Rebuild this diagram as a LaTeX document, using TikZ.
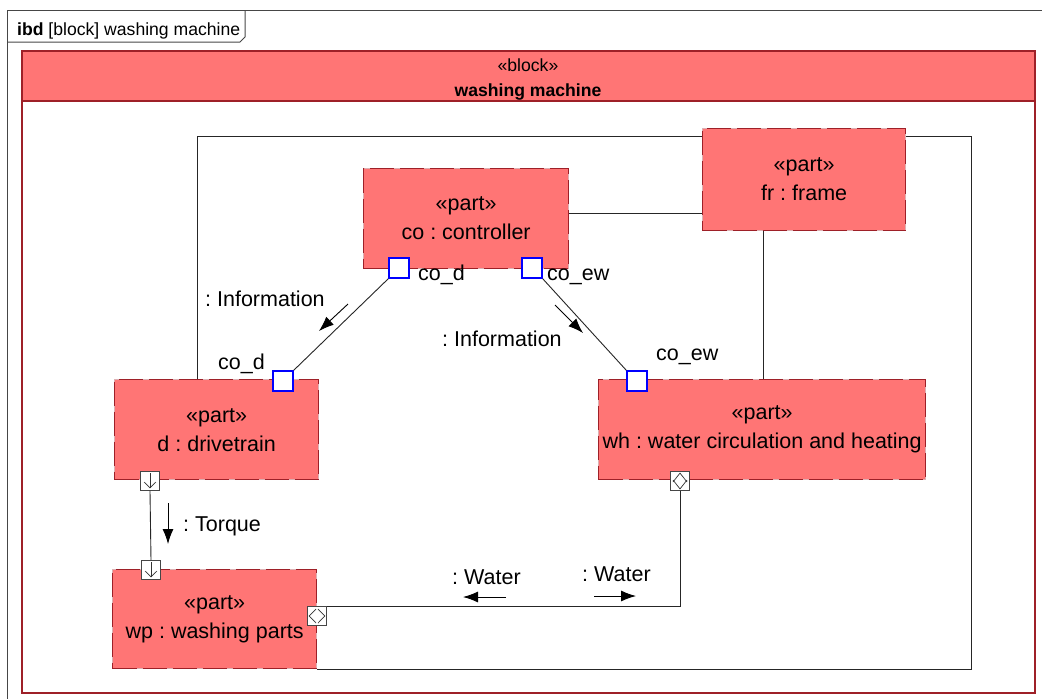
\documentclass[tikz,border=0pt]{standalone}
\usepackage{fontspec}
\setmainfont{Liberation Sans}
\usetikzlibrary{arrows.meta}
\definecolor{partfill}{RGB}{255,117,117}
\definecolor{partedge}{RGB}{158,32,40}
\definecolor{portblue}{RGB}{0,0,255}
\definecolor{framegray}{RGB}{70,70,70}
\frenchspacing

\begin{document}
\begin{tikzpicture}[x=1pt,y=-1pt,
  lbl/.style={font=\fontsize{21.5}{24}\selectfont, inner sep=0pt, anchor=base west},
  hdr/.style={font=\fontsize{17.6}{20}\selectfont, inner sep=0pt, anchor=base},
  partbox/.style={fill=partfill, draw=partedge!35, line width=1.3pt,
    postaction={draw=partedge, dash pattern=on 24pt off 6pt},
    align=center, font=\fontsize{21.5}{29}\selectfont, inner sep=0pt,
    anchor=north west},
  bport/.style={draw=portblue, fill=white, line width=1.3pt, minimum size=20pt, inner sep=0pt},
  fport/.style={draw=framegray, fill=white, line width=0.8pt, minimum size=19pt, inner sep=0pt},
  conn/.style={draw=black!85, line width=0.9pt},
  flow/.style={line width=0.9pt, -{Latex[length=15pt,width=11pt]}},
  glyph/.style={draw=black!80, line width=0.7pt},
]
\useasboundingbox (0,0) rectangle (1042,699);

% diagram frame and its name tab
\draw[framegray, line width=1pt] (7,720) -- (7,10) -- (1060,10);
\draw[framegray, line width=1pt] (7,42) -- (240,42) -- (245,37) -- (245,10);
\node[font=\fontsize{17.6}{20}\selectfont, inner sep=0pt, anchor=base west] (title) at (17,35)
  {\textbf{ibd} [block] washing machine};

% enclosing block
\draw[partedge, line width=1.5pt, fill=white] (22,51) rectangle (1035,693);
\draw[partedge, line width=1.5pt, fill=partfill] (22,51) rectangle (1035,101);
\node[hdr] (stereo) at (528,71) {«block»};
\node[hdr, font=\fontsize{17.6}{20}\selectfont\bfseries] (bname) at (528,96) {washing machine};

% parts
\node[partbox, minimum width=205pt, minimum height=100pt] (co) at (363,168) {«part»\\co : controller};
\node[partbox, minimum width=203pt, minimum height=102pt] (fr) at (702,128) {«part»\\fr : frame};
\node[partbox, minimum width=204pt, minimum height=100pt] (d) at (114,379) {«part»\\d : drivetrain};
\node[partbox, minimum width=327pt, minimum height=100pt] (wh) at (598,379) {«part»\\wh : water circulation and heating};
\node[partbox, minimum width=204pt, minimum height=99pt] (wp) at (112,569) {«part»\\wp : washing parts};

% connectors attached to the frame
\draw[conn] ([xshift=83pt]d.north west) |- ([yshift=-8pt]fr.north west);
\draw[conn] ([yshift=-8pt]fr.north east) -| ([xshift=654pt]wp.south east) -- (wp.south east);
\coordinate (cofr) at ([yshift=-45pt]co.north east);
\draw[conn] (cofr) -- (fr.west |- cofr);
\coordinate (frwh) at ([xshift=61pt]fr.south west);
\draw[conn] (frwh) -- (frwh |- wh.north);

% standard ports and the connectors between them
\node[bport] (pcod) at (399,268) {};
\node[bport] (pcoew) at (532,268) {};
\node[bport] (pdcod) at (283,381) {};
\node[bport] (pwhew) at (637,381) {};
\draw[conn] (pcod.south west) -- (pdcod.north east);
\draw[conn] (pcoew.south east) -- (pwhew.north west);

\node[lbl] (lcod) at (418,280) {co\_d};
\node[lbl] (lcoew) at (547,280) {co\_ew};
\node[lbl] (ldcod) at (218,369) {co\_d};
\node[lbl] (lwhew) at (656,360) {co\_ew};

% information flows
\coordinate (i1s) at (348,304);
\coordinate (i1e) at (319,331);
\coordinate (i2s) at (555,305);
\coordinate (i2e) at (583,333);
\draw[flow] (i1s) -- (i1e);
\draw[flow] (i2s) -- (i2e);
\node[lbl] (linfo1) at (205,306) {: Information};
\node[lbl] (linfo2) at (442,346) {: Information};

% flow ports
\node[fport] (fd) at (150,481) {};
\node[fport] (fwp) at (151,570) {};
\node[fport] (fwpw) at (317,616) {};
\node[fport] (fwh) at (680,481) {};

\foreach \p in {fd,fwp} {
  \draw[glyph] ([yshift=-2pt]\p.north) -- ([yshift=3pt]\p.south);
  \draw[glyph] ([xshift=-6pt,yshift=-1pt]\p.center) -- ([yshift=3pt]\p.south) -- ([xshift=6pt,yshift=-1pt]\p.center);
}
\draw[glyph] ([xshift=-7pt,yshift=-1pt]fwh.center) -- ([yshift=-2pt]fwh.north) -- ([xshift=7pt,yshift=-1pt]fwh.center);
\draw[glyph] ([xshift=-7pt,yshift=1pt]fwh.center) -- ([yshift=2pt]fwh.south) -- ([xshift=7pt,yshift=1pt]fwh.center);
\draw[glyph] ([xshift=-1pt,yshift=-7pt]fwpw.center) -- ([xshift=2pt]fwpw.west) -- ([xshift=-1pt,yshift=7pt]fwpw.center);
\draw[glyph] ([xshift=1pt,yshift=-7pt]fwpw.center) -- ([xshift=-2pt]fwpw.east) -- ([xshift=1pt,yshift=7pt]fwpw.center);

% torque and water connectors
\draw[conn] (fd.south) -- (fwp.north);
\draw[conn] (fwh.south) |- (fwpw.north east);

\coordinate (ts) at (168,503);
\coordinate (te) at (168,544);
\draw[flow] (ts) -- (te);
\node[lbl] (ltorque) at (183,531) {: Torque};

\coordinate (w1s) at (506,597);
\coordinate (w1e) at (463,597);
\coordinate (w2s) at (594,596);
\coordinate (w2e) at (636,596);
\draw[flow] (w1s) -- (w1e);
\draw[flow] (w2s) -- (w2e);
\node[lbl] (lwater1) at (452,584) {: Water};
\node[lbl] (lwater2) at (582,581) {: Water};
\end{tikzpicture}
\end{document}
